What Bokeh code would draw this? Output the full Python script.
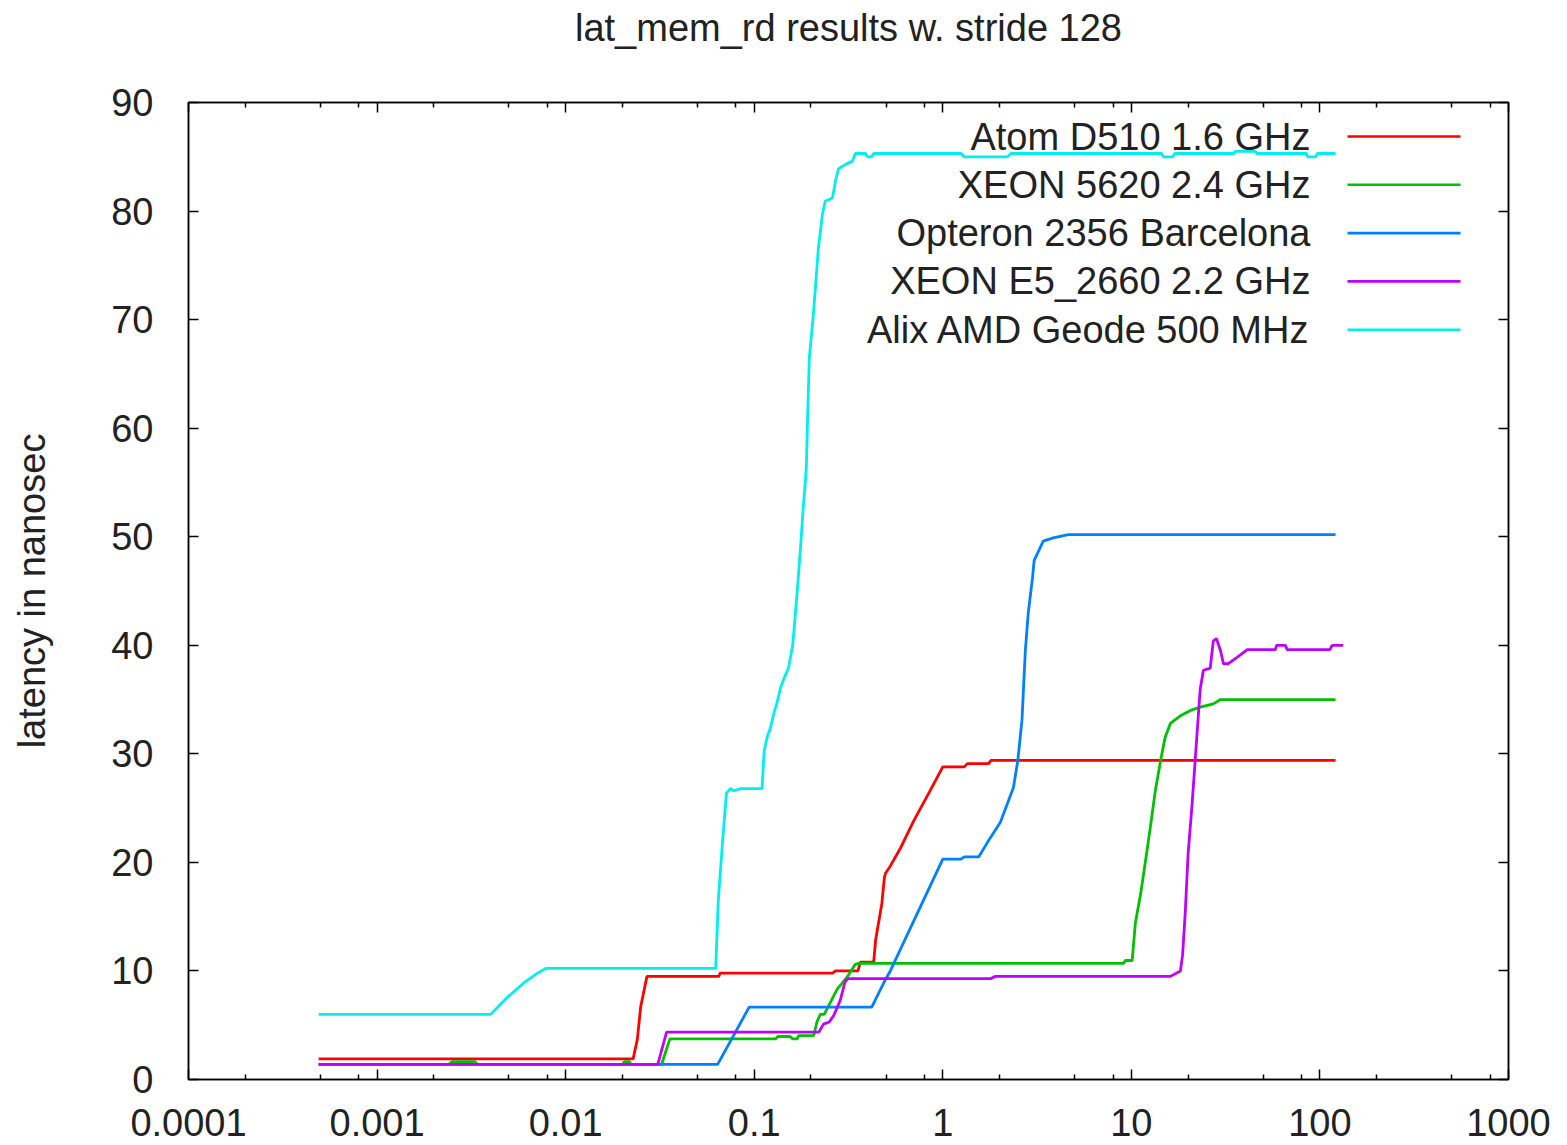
from bokeh.plotting import figure
from bokeh.models import (Range1d, FixedTicker, LinearAxis, LogAxis, Label,
                          BoxAnnotation, CustomJSTickFormatter)
from bokeh.embed import file_html
from bokeh.resources import INLINE

FONT = "Liberation Sans"
FS = "38px"
TXT = "#222222"

series_names = ["Atom D510 1.6 GHz", "XEON 5620 2.4 GHz", "Opteron 2356 Barcelona",
                "XEON E5_2660 2.2 GHz", "Alix AMD Geode 500 MHz"]
series_colors = ["#ff0000", "#00c000", "#0080ff", "#c000ff", "#00eeee"]

# array size in MB vs latency in ns
atom_x = [0.00049, 0.0228, 0.024, 0.025, 0.027, 0.065, 0.066, 0.26, 0.27, 0.355, 0.365,
          0.43, 0.44, 0.456, 0.475, 0.49, 0.497, 0.52, 0.6, 0.7, 0.85, 1.0, 1.3, 1.35,
          1.75, 1.8, 121]
atom_y = [1.9, 1.9, 3.7, 6.7, 9.5, 9.5, 9.8, 9.8, 10.0, 10.0, 10.8,
          10.8, 12.8, 14.4, 16.2, 18.6, 19.0, 19.5, 21.4, 23.8, 26.5, 28.8, 28.8, 29.1,
          29.1, 29.4, 29.4]

xeon5620_x = [0.00049, 0.0024, 0.0025, 0.0033, 0.0034, 0.020, 0.0205, 0.0218, 0.0222,
              0.0323, 0.0357, 0.13, 0.133, 0.155, 0.16, 0.169, 0.172, 0.207, 0.215,
              0.224, 0.235, 0.246, 0.275, 0.31, 0.343, 0.36, 9.1, 9.3, 10.1, 10.5, 11.2,
              11.9, 12.6, 13.4, 14.3, 15.1, 16.1, 18.2, 20.6, 23.2, 27.2, 29.7, 121]
xeon5620_y = [1.4, 1.4, 1.65, 1.65, 1.4, 1.4, 1.65, 1.65, 1.4,
              1.4, 3.74, 3.74, 3.96, 3.96, 3.74, 3.74, 4.05, 4.05, 5.3,
              6.0, 6.0, 6.66, 8.3, 9.4, 10.6, 10.7, 10.7, 10.96, 10.96, 14.4, 17.1,
              20.2, 23.2, 26.6, 29.4, 31.5, 32.8, 33.5, 34.0, 34.3, 34.6, 35.0, 35.0]

opteron_x = [0.00049, 0.064, 0.094, 0.42, 0.493, 0.527, 1.0, 1.25, 1.3, 1.55, 1.72, 2.02,
             2.37, 2.5, 2.63, 2.74, 2.84, 2.99, 3.05, 3.41, 3.85, 4.63, 121]
opteron_y = [1.4, 1.4, 6.66, 6.66, 9.1, 10.0, 20.3, 20.3, 20.5, 20.5, 21.8, 23.7,
             26.9, 29.4, 33.1, 39.5, 43.0, 46.2, 47.8, 49.6, 49.9, 50.2, 50.2]

xeone5_x = [0.00049, 0.0308, 0.0343, 0.22, 0.233, 0.25, 0.264, 0.286, 0.303, 0.316, 1.8,
            1.9, 16.1, 18.2, 18.7, 19.3, 20.0, 21.0, 21.8, 22.6, 23.2, 24.1, 26.2, 27.2,
            28.3, 29.7, 30.8, 32.7, 36.5, 41.2, 58, 59, 65.6, 67, 113, 116, 133]
xeone5_y = [1.4, 1.4, 4.36, 4.36, 5.1, 5.3, 5.9, 7.3, 9.0, 9.3, 9.3,
            9.5, 9.5, 10.0, 11.5, 15.3, 20.8, 25.4, 29.4, 33.3, 36.0, 37.7, 37.9, 40.4,
            40.6, 39.5, 38.3, 38.3, 38.9, 39.6, 39.6, 40.0, 40.0, 39.6, 39.6, 40.0, 40.0]

geode_x = [0.00049, 0.0040, 0.0048, 0.0061, 0.0071, 0.0079, 0.0625, 0.0645, 0.068, 0.0713,
           0.075, 0.078, 0.085, 0.110, 0.111, 0.113, 0.117, 0.122, 0.127, 0.133, 0.138,
           0.1445, 0.152, 0.160, 0.165, 0.170, 0.176, 0.182, 0.187, 0.189, 0.192, 0.196,
           0.206, 0.211, 0.219, 0.230, 0.238, 0.260, 0.270, 0.280, 0.305, 0.332, 0.344,
           0.39, 0.398, 0.42, 0.43, 1.25, 1.3, 2.2, 2.3, 14.5, 14.8, 16.6, 17, 35, 35.6,
           45.4, 46.5, 85, 86, 95, 97, 121]
geode_y = [6.0, 6.0, 7.4, 9.0, 9.8, 10.24, 10.24, 16.5, 22.0, 26.4,
           26.8, 26.6, 26.8, 26.8, 28.0, 30.3, 31.5, 32.4, 33.7, 34.9, 36.1,
           37.0, 37.9, 40.0, 42.7, 45.5, 49.0, 52.7, 55.2, 56.4, 61.0, 66.5,
           70.5, 72.9, 76.6, 79.7, 80.9, 81.2, 82.8, 83.9, 84.3, 84.6, 85.3,
           85.3, 85.0, 85.0, 85.3, 85.3, 85.0, 85.0, 85.3, 85.3, 85.0, 85.0, 85.3, 85.3, 85.5,
           85.5, 85.3, 85.3, 85.0, 85.0, 85.3, 85.3]

series_x = [atom_x, xeon5620_x, opteron_x, xeone5_x, geode_x]
series_y = [atom_y, xeon5620_y, opteron_y, xeone5_y, geode_y]

x_tick_values = [0.0001, 0.001, 0.01, 0.1, 1.0, 10.0, 100.0, 1000.0]
x_tick_labels = ["0.0001", "0.001", "0.01", "0.1", "1", "10", "100", "1000"]
x_minor_mults = [2, 5, 8]
y_tick_values = [0, 10, 20, 30, 40, 50, 60, 70, 80, 90]

title_text = "lat_mem_rd results w. stride 128"
y_label = "latency in nanosec"

p = figure(width=1567, height=1145, x_axis_type="log",
           x_range=Range1d(0.0001, 1000), y_range=Range1d(0, 90),
           output_backend="svg", toolbar_location=None,
           min_border_left=188, min_border_right=59, min_border_top=102,
           min_border_bottom=66)
p.background_fill_color = "white"
p.border_fill_color = "white"
p.outline_line_color = "black"
p.outline_line_width = 1.5
p.xgrid.visible = False
p.ygrid.visible = False

x_minor = [m * v for v in x_tick_values[:-1] for m in x_minor_mults]
xticker = FixedTicker(ticks=x_tick_values, minor_ticks=x_minor)
yticker = FixedTicker(ticks=y_tick_values, minor_ticks=[])

xa = p.xaxis[0]
ya = p.yaxis[0]
xa.ticker = xticker
ya.ticker = yticker
xa.major_label_overrides = {v: l for v, l in zip(x_tick_values, x_tick_labels)}
ya.axis_label = y_label

empty = CustomJSTickFormatter(code="return ''")
top = LogAxis(ticker=xticker, formatter=empty, axis_label=title_text)
right = LinearAxis(ticker=yticker, formatter=empty)
p.add_layout(top, "above")
p.add_layout(right, "right")

for ax in [xa, ya, top, right]:
    ax.major_tick_in = 10
    ax.major_tick_out = 0
    ax.minor_tick_in = 5
    ax.minor_tick_out = 0
    ax.axis_line_width = 1.5
    ax.axis_line_color = "black"
    ax.major_tick_line_width = 1.5
    ax.minor_tick_line_width = 1.5
    ax.major_tick_line_color = "black"
    ax.minor_tick_line_color = "black"
    ax.major_label_text_font = FONT
    ax.major_label_text_font_size = FS
    ax.major_label_text_color = TXT
    ax.axis_label_text_font = FONT
    ax.axis_label_text_font_size = FS
    ax.axis_label_text_font_style = "normal"
    ax.axis_label_text_color = TXT

xa.major_label_standoff = 29
ya.major_label_standoff = 35
ya.axis_label_standoff = 55
top.major_label_standoff = 0
top.major_label_text_font_size = "1px"
top.axis_label_standoff = 54
right.major_label_standoff = 0
right.major_label_text_font_size = "1px"

for xs, ys, c in zip(series_x, series_y, series_colors):
    p.line(xs, ys, line_color=c, line_width=2.8)

# legend in gnuplot style: text right-aligned, sample line to its right
text_right = 1122
sample_left = 1159
sample_right = 1272
row_top = 943
row_step = 48.3
for i, (name, c) in enumerate(zip(series_names, series_colors)):
    yy = row_top - i * row_step
    p.add_layout(Label(x=text_right, y=yy, x_units="screen", y_units="screen",
                       text=name, text_align="right", text_baseline="middle",
                       text_font=FONT, text_font_size=FS, text_color=TXT))
    p.add_layout(BoxAnnotation(left=sample_left, right=sample_right,
                               bottom=yy - 1.3, top=yy + 1.3,
                               left_units="screen", right_units="screen",
                               bottom_units="screen", top_units="screen",
                               fill_color=c, fill_alpha=1.0, line_color=None))

open("out.html", "w").write(file_html(p, INLINE))
